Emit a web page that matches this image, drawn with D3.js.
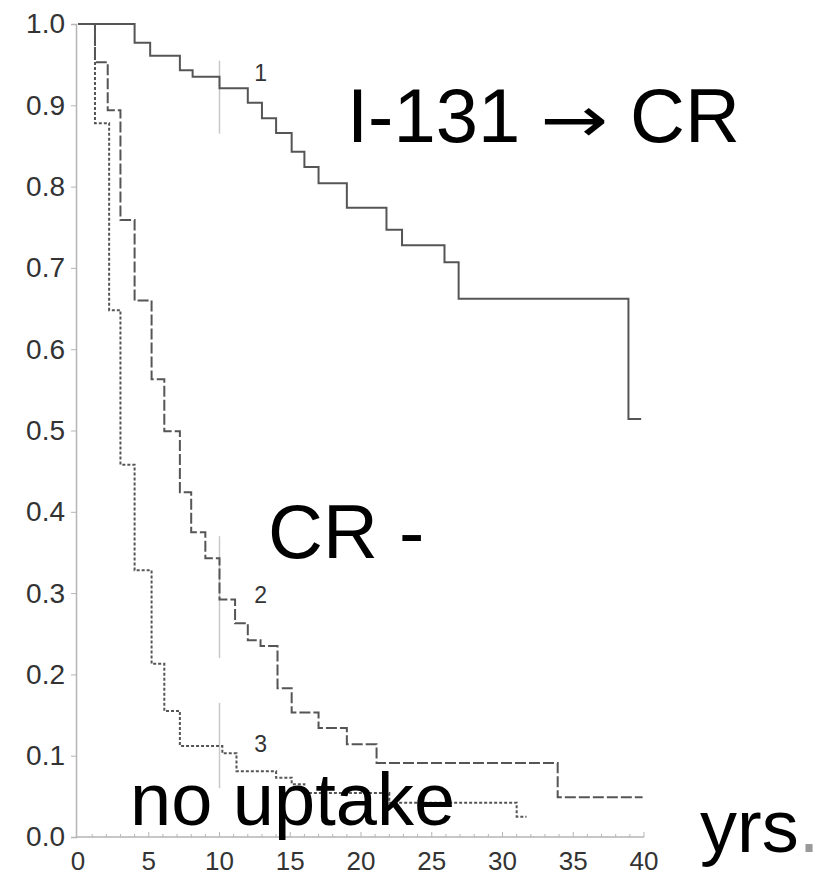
<!DOCTYPE html>
<html>
<head>
<meta charset="utf-8">
<script src="https://cdn.jsdelivr.net/npm/d3@7"></script>
<style>
  body { margin: 0; background: #fff; }
  svg { display: block; }
</style>
</head>
<body>
<div id="chart"></div>
<script>
// Kaplan-Meier style survival curves
const yTicks = [0, 0.1, 0.2, 0.3, 0.4, 0.5, 0.6, 0.7, 0.8, 0.9, 1.0];
const xTicks = [0, 5, 10, 15, 20, 25, 30, 35, 40];

// curve 1: I-131 -> CR
const time1 = [0, 4.0, 5.1, 7.2, 8.1, 10.0, 12.0, 13.0, 14.0, 15.1, 16.0, 17.0, 19.0, 21.8, 22.9, 25.9, 26.9, 38.9, 39.8];
const surv1 = [1.0, 0.977, 0.961, 0.943, 0.935, 0.921, 0.903, 0.884, 0.866, 0.843, 0.824, 0.804, 0.774, 0.747, 0.728, 0.707, 0.662, 0.514, 0.514];

// curve 2: CR -
const time2 = [0, 1.2, 2.1, 3.0, 4.0, 5.2, 6.1, 7.2, 8.0, 9.0, 10.0, 11.1, 12.0, 12.9, 14.1, 15.1, 17.0, 19.0, 21.1, 33.9, 39.9];
const surv2 = [1.0, 0.953, 0.894, 0.759, 0.66, 0.563, 0.499, 0.424, 0.375, 0.343, 0.292, 0.263, 0.242, 0.235, 0.183, 0.153, 0.134, 0.114, 0.091, 0.049, 0.049];

// curve 3: no uptake
const time3 = [0, 1.2, 2.2, 3.0, 4.0, 5.2, 6.1, 7.2, 10.2, 11.2, 14.0, 15.1, 16.0, 22.0, 31.0, 31.7];
const surv3 = [1.0, 0.878, 0.648, 0.458, 0.328, 0.213, 0.155, 0.112, 0.103, 0.081, 0.073, 0.065, 0.054, 0.042, 0.025, 0.025];

// gray marks at 10 years: [yTop, yBottom] per curve
const markAt = 10;
const markSpans = [[0.955, 0.865], [0.37, 0.22], [0.165, 0.06]];
const curveLabels = [
  { text: "1", t: 12.9, s: 0.93 },
  { text: "2", t: 12.9, s: 0.288 },
  { text: "3", t: 12.9, s: 0.104 }
];

const width = 828, height = 877;
const font = "'Liberation Sans', Arial, Helvetica, sans-serif";

const svg = d3.select("#chart")
  .append("svg")
  .attr("width", width)
  .attr("height", height)
  .style("background", "#fff");

const x = d3.scaleLinear().domain([0, 40]).range([78, 644]);
const y = d3.scaleLinear().domain([0, 1]).range([837, 24]);

const axisColor = "#b5b5b5";
const labelColor = "#333";

// y axis
const yAxis = svg.append("g")
  .attr("transform", "translate(76,0)")
  .call(d3.axisLeft(y).tickValues(yTicks).tickFormat(d3.format(".1f")).tickSize(5).tickPadding(6));
yAxis.select(".domain").attr("stroke", axisColor).attr("stroke-width", 1.5);
yAxis.selectAll(".tick line").attr("stroke", axisColor);
yAxis.selectAll(".tick text")
  .attr("fill", labelColor)
  .style("font-family", font)
  .style("font-size", "28px");

// x axis (ticks pointing up, minor every year)
const xAxisG = svg.append("g").attr("transform", "translate(0,837)");
xAxisG.append("line")
  .attr("x1", 76).attr("x2", x(40))
  .attr("stroke", axisColor).attr("stroke-width", 1.5);
xAxisG.selectAll(".minor")
  .data(d3.range(1, 41))
  .join("line")
  .attr("x1", d => x(d)).attr("x2", d => x(d))
  .attr("y1", 0).attr("y2", d => d % 5 === 0 ? -5 : -3)
  .attr("stroke", axisColor);
xAxisG.selectAll(".xlab")
  .data(xTicks)
  .join("text")
  .attr("x", d => x(d))
  .attr("y", 33)
  .attr("text-anchor", "middle")
  .attr("fill", labelColor)
  .style("font-family", font)
  .style("font-size", "26px")
  .text(d => d);

// marks at 10 years
svg.selectAll(".mark")
  .data(markSpans)
  .join("line")
  .attr("x1", x(markAt)).attr("x2", x(markAt))
  .attr("y1", d => y(d[0])).attr("y2", d => y(d[1]))
  .attr("stroke", "#c8c8c8").attr("stroke-width", 1.5);

// step curves
const line = d3.line()
  .x(d => x(d[0]))
  .y(d => y(d[1]))
  .curve(d3.curveStepAfter);

const curves = [
  { pts: d3.zip(time3, surv3), dash: "3,2" },
  { pts: d3.zip(time2, surv2), dash: "11,3" },
  { pts: d3.zip(time1, surv1), dash: null }
];

svg.selectAll(".curve")
  .data(curves)
  .join("path")
  .attr("d", d => line(d.pts))
  .attr("fill", "none")
  .attr("stroke", "#555")
  .attr("stroke-width", 2)
  .attr("stroke-dasharray", d => d.dash);

// curve numbers
svg.selectAll(".clabel")
  .data(curveLabels)
  .join("text")
  .attr("x", d => x(d.t))
  .attr("y", d => y(d.s))
  .attr("text-anchor", "middle")
  .attr("fill", labelColor)
  .style("font-family", font)
  .style("font-size", "23px")
  .text(d => d.text);

// big annotations
const big = svg.append("g")
  .style("font-family", font)
  .style("font-size", "76px")
  .attr("fill", "#000");

big.append("text").attr("x", 347).attr("y", 142).text("I-131");
big.append("text")
  .attr("x", 540).attr("y", 142)
  .style("font-family", "'DejaVu Sans', sans-serif")
  .style("font-size", "64px")
  .attr("textLength", 68)
  .attr("lengthAdjust", "spacingAndGlyphs")
  .text("\u2192");
big.append("text").attr("x", 630).attr("y", 142).text("CR");
big.append("text").attr("x", 268).attr("y", 558).text("CR -");
big.append("text").attr("x", 130).attr("y", 825).style("font-size", "74px").text("no uptake");

const yrs = big.append("text").attr("x", 700).attr("y", 852).style("font-size", "74px");
yrs.append("tspan").text("yrs");
yrs.append("tspan").attr("fill", "#999").text(".");
</script>
</body>
</html>
